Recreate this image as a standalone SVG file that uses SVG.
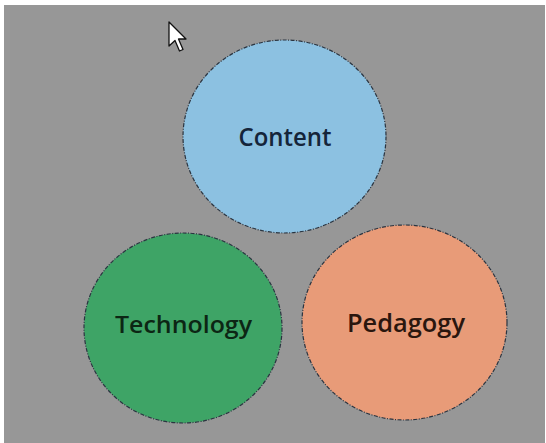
<svg xmlns="http://www.w3.org/2000/svg" width="546" height="443" viewBox="0 0 546 443">
<style>
.c{stroke:#2a3440;stroke-width:1.2;stroke-dasharray:4 1.5 1 1.5}
.t{font-family:"Open Sans","Noto Sans",sans-serif;font-weight:600;text-anchor:middle}
</style>
<rect width="546" height="443" fill="#ffffff"/>
<rect x="4" y="5" width="541" height="438" fill="#979797"/>
<g id="cursor">
<polygon points="169,22 169,46 175,40.5 179.5,51 183,49.5 178.5,39 186,39" fill="#ffffff" stroke="#111" stroke-width="1.3" stroke-linejoin="round"/>
</g>
<g id="connectors"></g>
<g id="content">
<ellipse class="c" cx="284.5" cy="136.5" rx="101.5" ry="96.5" fill="#8cc1e1"/>
<text class="t" x="285" y="146" font-size="26" fill="#15253a" textLength="93" lengthAdjust="spacingAndGlyphs">Content</text>
</g>
<g id="technology">
<ellipse class="c" cx="183" cy="328" rx="99" ry="95" fill="#3ea466"/>
<text class="t" x="183.5" y="333" font-size="24" fill="#0c2614" textLength="137" lengthAdjust="spacingAndGlyphs">Technology</text>
</g>
<g id="pedagogy">
<ellipse class="c" cx="404.5" cy="322.5" rx="102.5" ry="97.5" fill="#e89b78"/>
<text class="t" x="406" y="332" font-size="25" fill="#2a160e" textLength="118" lengthAdjust="spacingAndGlyphs">Pedagogy</text>
</g>
</svg>
